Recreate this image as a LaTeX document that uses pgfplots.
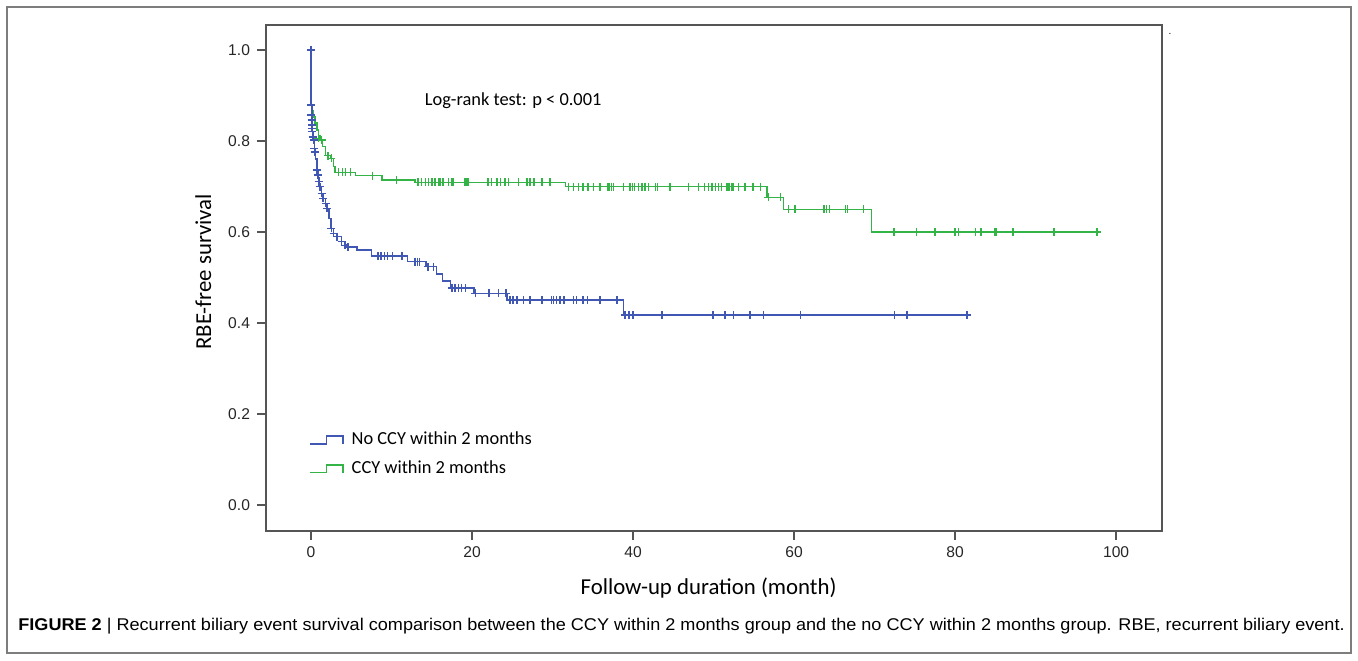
\documentclass[border=0pt]{standalone}
\usepackage{fontspec}
\setmainfont{Liberation Sans}
\newfontfamily\carlito{Carlito}
\newfontfamily\capfont[FakeStretch=1.064]{Liberation Sans}
\usepackage{pgfplots}
\pgfplotsset{compat=1.18}
\definecolor{kmblue}{RGB}{64,88,180}
\definecolor{kmgreen}{RGB}{52,180,70}
\definecolor{axgray}{RGB}{85,85,85}
\definecolor{framegray}{RGB}{125,125,125}

\begin{document}
\begin{tikzpicture}
% picture laid out in image pixels: 1 px = 0.5 pt, y downward
\draw[framegray,line width=1pt] (3.5pt,-3.5pt) rectangle (675.5pt,-326.5pt);
\begin{axis}[
  at={(133pt,-265.5pt)}, anchor=south west,
  scale only axis, width=448pt, height=253pt,
  xmin=-5.6, xmax=105.7, ymin=-0.057, ymax=1.055,
  xtick={0,20,40,60,80,100},
  ytick={0,0.2,0.4,0.6,0.8,1.0},
  yticklabel style={/pgf/number format/.cd,fixed,fixed zerofill,precision=1},
  /pgf/number format/assume math mode=true,
  tick label style={font=\fontsize{7.8}{9}\selectfont, text=black!85},
  axis line style={axgray,line width=1.1pt},
  tick style={axgray,line width=0.9pt},
  tick align=outside, tick pos=left, major tick length=4.5pt,
  xlabel={Follow-up duration (month)},
  ylabel={RBE-free survival},
  every axis x label/.style={at={(axis description cs:0.494,-0.113)},anchor=center,
    font=\carlito\fontsize{11.4}{13}\selectfont},
  every axis y label/.style={at={(axis description cs:-0.070,0.512)},anchor=center,rotate=90,
    font=\carlito\fontsize{11.4}{13}\selectfont},
  legend image code/.code={\draw[#1] (0pt,-1.9pt) -- (8.2pt,-1.9pt) -- (8.2pt,1.9pt) -- (16.3pt,1.9pt) -- (16.3pt,-1.9pt);},
  legend style={at={(0.0415,0.212)}, anchor=north west, draw=none, fill=none,
    font=\carlito\fontsize{9.2}{11}\selectfont, row sep=2.5pt,
    nodes={inner sep=2pt},
    /tikz/every odd column/.append style={column sep=2pt}},
  legend cell align=left,
  clip=false,
]
\addlegendimage{kmblue,line width=0.75pt}
\addlegendentry{No CCY within 2 months}
\addlegendimage{kmgreen,line width=0.75pt}
\addlegendentry{CCY within 2 months}

% ---- CCY within 2 months (green) ----
\addplot[kmgreen, line width=0.8pt, const plot, forget plot] coordinates {
  (0,1.0) (0.02,0.879) (0.15,0.866) (0.29,0.853) (0.45,0.84) (0.7,0.824)
  (0.9,0.812) (1.1,0.802) (1.4,0.788) (1.8,0.768) (2.4,0.762) (2.8,0.744)
  (3.0,0.731) (5.5,0.724) (8.8,0.714) (12.9,0.709) (31.6,0.700)
  (56.6,0.676) (58.7,0.650) (69.6,0.600) (97.7,0.600)
};
\addplot[kmgreen, only marks, mark=+, mark size=2pt, mark options={line width=0.7pt}, forget plot] coordinates {
  (0.9,0.806) (1.3,0.802) (2.1,0.768) (2.5,0.762)
  (3.4,0.731) (3.9,0.731) (4.3,0.731) (4.9,0.731) (7.6,0.724) (10.6,0.714)
  (13.3,0.709) (13.7,0.709) (14.2,0.709) (14.6,0.709) (15.0,0.709) (15.4,0.709)
  (15.8,0.709) (16.0,0.709) (16.4,0.709) (17.1,0.709) (17.5,0.709) (17.7,0.709)
  (19.1,0.709) (19.3,0.709) (19.5,0.709) (22.0,0.709) (22.4,0.709) (23.1,0.709)
  (23.5,0.709) (24.1,0.709) (24.5,0.709) (25.8,0.709) (26.8,0.709) (27.2,0.709)
  (27.7,0.709) (28.7,0.709) (29.7,0.709)
  (32.0,0.70) (32.6,0.70) (33.2,0.70) (33.8,0.70) (34.4,0.70) (35.1,0.70)
  (35.9,0.70) (36.9,0.70) (37.1,0.70) (37.3,0.70) (37.6,0.70) (38.8,0.70)
  (39.6,0.70) (39.9,0.70) (40.2,0.70) (40.7,0.70) (41.1,0.70) (41.5,0.70)
  (41.9,0.70) (42.8,0.70) (43.0,0.70) (44.6,0.70) (46.9,0.70) (48.1,0.70)
  (48.9,0.70) (49.4,0.70) (49.8,0.70) (50.2,0.70) (50.6,0.70) (51.0,0.70)
  (51.6,0.70) (51.8,0.70) (52.0,0.70) (52.2,0.70) (52.4,0.70) (53.1,0.70)
  (53.9,0.70) (54.9,0.70) (55.8,0.70)
  (56.8,0.676) (58.3,0.676)
  (59.3,0.65) (60.1,0.65) (63.7,0.65) (64.0,0.65) (64.4,0.65) (66.4,0.65)
  (66.6,0.65) (68.6,0.65)
  (72.4,0.60) (75.2,0.60) (77.5,0.60) (80.0,0.60) (80.4,0.60) (82.5,0.60)
  (83.2,0.60) (84.9,0.60) (85.1,0.60) (87.2,0.60) (92.3,0.60) (97.6,0.60)
};

% ---- No CCY within 2 months (blue) ----
\addplot[kmblue, line width=0.8pt, const plot, forget plot] coordinates {
  (0,1.0) (0.02,0.879) (0.1,0.857) (0.15,0.835) (0.2,0.821) (0.3,0.802)
  (0.4,0.784) (0.55,0.76) (0.7,0.736) (0.85,0.72) (1.0,0.70) (1.3,0.685)
  (1.5,0.674) (1.8,0.663) (2.0,0.652) (2.2,0.63) (2.5,0.608) (2.8,0.597)
  (3.2,0.59) (3.8,0.579) (4.2,0.571) (4.6,0.567) (5.7,0.56) (7.5,0.547)
  (12.0,0.535) (14.3,0.524) (15.6,0.508) (16.3,0.493) (17.3,0.477)
  (20.2,0.465) (24.3,0.4505) (38.8,0.418) (81.6,0.418)
};
\addplot[kmblue, only marks, mark=+, mark size=2pt, mark options={line width=0.7pt}, forget plot] coordinates {
  (0,1.0) (0.02,0.879) (0.05,0.857) (0.08,0.846) (0.1,0.835) (0.12,0.828)
  (0.15,0.821) (0.2,0.809) (0.3,0.802) (0.4,0.784) (0.5,0.776) (0.75,0.736)
  (0.8,0.725) (0.95,0.711) (1.1,0.70) (1.3,0.685) (1.5,0.674) (1.8,0.663)
  (2.0,0.652) (2.5,0.608) (2.8,0.597) (3.2,0.59) (3.8,0.579) (4.2,0.571)
  (4.6,0.567)
  (8.3,0.547) (8.7,0.547) (9.1,0.547) (9.5,0.547) (10.1,0.547) (11.3,0.547)
  (12.9,0.535) (13.2,0.535) (13.5,0.535) (14.5,0.524) (15.2,0.524)
  (17.5,0.477) (17.9,0.477) (18.3,0.477) (18.7,0.477) (19.2,0.477)
  (20.4,0.465) (22.1,0.465) (23.3,0.465) (24.2,0.465)
  (24.7,0.4505) (25.1,0.4505) (25.6,0.4505) (26.4,0.4505) (27.2,0.4505)
  (28.7,0.4505) (29.9,0.4505) (30.1,0.4505) (30.5,0.4505) (30.9,0.4505)
  (31.4,0.4505) (32.6,0.4505) (33.0,0.4505) (33.8,0.4505) (34.3,0.4505)
  (35.9,0.4505) (38.0,0.4505)
  (39.0,0.418) (39.5,0.418) (40.0,0.418) (43.6,0.418) (49.9,0.418)
  (51.4,0.418) (52.5,0.418) (54.5,0.418) (56.2,0.418) (60.8,0.418)
  (72.5,0.418) (74.0,0.418) (81.5,0.418)
};

\node[font=\carlito\fontsize{9.2}{11}\selectfont] at (axis cs:25.1,0.889) {Log-rank test: p < 0.001};
\end{axis}
\node[font=\fontsize{5}{6}\selectfont] at (585pt,-17pt) {.};
\node[anchor=base west, font=\capfont\fontsize{8.5}{10}\selectfont, inner sep=0pt] at (9pt,-315pt)
  {\textbf{FIGURE 2} \textbar\ Recurrent biliary event survival comparison between the CCY within 2 months group and the no CCY within 2 months group. RBE, recurrent biliary event.};
\pgfresetboundingbox
\useasboundingbox (0pt,0pt) rectangle (679pt,-330pt);
\end{tikzpicture}
\end{document}
